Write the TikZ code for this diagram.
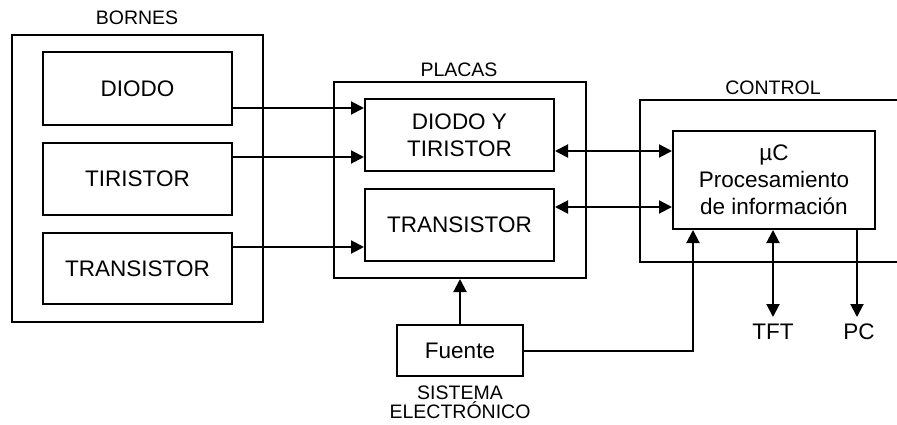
\documentclass[tikz,border=0pt]{standalone}
\usepackage{fontspec}
\setmainfont{Liberation Sans}
\usetikzlibrary{arrows.meta}
\begin{document}
\begin{tikzpicture}[x=1pt,y=-1pt, line width=2pt,
  box/.style={draw, rectangle, inner sep=0pt, align=center, font=\fontsize{22.5}{27}\selectfont},
  grp/.style={draw, rectangle, inner sep=0pt},
  lbl/.style={inner sep=0pt, font=\fontsize{19.5}{19}\selectfont},
  arr/.style={-{Triangle[length=13pt,width=13pt]}},
  barr/.style={{Triangle[length=13pt,width=13pt]}-{Triangle[length=13pt,width=13pt]}}]
\useasboundingbox (0,0) rectangle (897,425);
% groups
\node[grp, minimum width=251pt, minimum height=287pt] (bornes) at (137.5,178.5) {};
\node[grp, minimum width=252pt, minimum height=196pt] (placas) at (460,180) {};
\coordinate (ctl1) at (898,100);
\coordinate (ctl2) at (640,100);
\coordinate (ctl3) at (640,262);
\coordinate (ctl4) at (898,262);
\draw (ctl1) -- (ctl2) -- (ctl3) -- (ctl4);
% labels
\node[lbl] (lbornes) at (137,18) {BORNES};
\node[lbl] (lplacas) at (459,70) {PLACAS};
\node[lbl] (lcontrol) at (773,88) {CONTROL};
\node[lbl, align=center] (lsis) at (460,402) {SISTEMA\\ELECTRÓNICO};
% boxes
\node[box, minimum width=189pt, minimum height=73pt] (diodo) at (137.5,88.5) {DIODO};
\node[box, minimum width=189pt, minimum height=72pt] (tiristor) at (137.5,179) {TIRISTOR};
\node[box, minimum width=189pt, minimum height=71pt] (transA) at (137.5,268.5) {TRANSISTOR};
\node[box, minimum width=189pt, minimum height=72pt] (dyt) at (459.5,135) {DIODO Y\\TIRISTOR};
\node[box, minimum width=189pt, minimum height=72pt] (transB) at (459.5,225) {TRANSISTOR};
\node[box, minimum width=202pt, minimum height=98pt] (uc) at (774,180) {µC\\Procesamiento\\de información};
\node[box, minimum width=126pt, minimum height=51pt] (fuente) at (460,350.5) {Fuente};
% outputs
\node[box, draw=none] (tft) at (773,332) {TFT};
\node[box, draw=none] (pc) at (859,332) {PC};
\coordinate (tftend) at (773,317);
\coordinate (pcend) at (857,317);
\coordinate (fcorner) at (693,351);
% connectors
\draw[arr] (diodo.east |- 0,108) -- (dyt.west |- 0,108);
\draw[arr] (tiristor.east |- 0,157) -- (dyt.west |- 0,157);
\draw[arr] (transA.east |- 0,247) -- (transB.west |- 0,247);
\draw[barr] (dyt.east |- 0,151) -- (uc.west |- 0,151);
\draw[barr] (transB.east |- 0,207) -- (uc.west |- 0,207);
\draw[arr] (fuente.north) -- (placas.south);
\draw[arr] (fuente.east |- fcorner) -- (fcorner) -- (uc.south -| fcorner);
\draw[barr] (uc.south -| tftend) -- (tftend);
\draw[arr] (uc.south -| pcend) -- (pcend);
\end{tikzpicture}
\end{document}
